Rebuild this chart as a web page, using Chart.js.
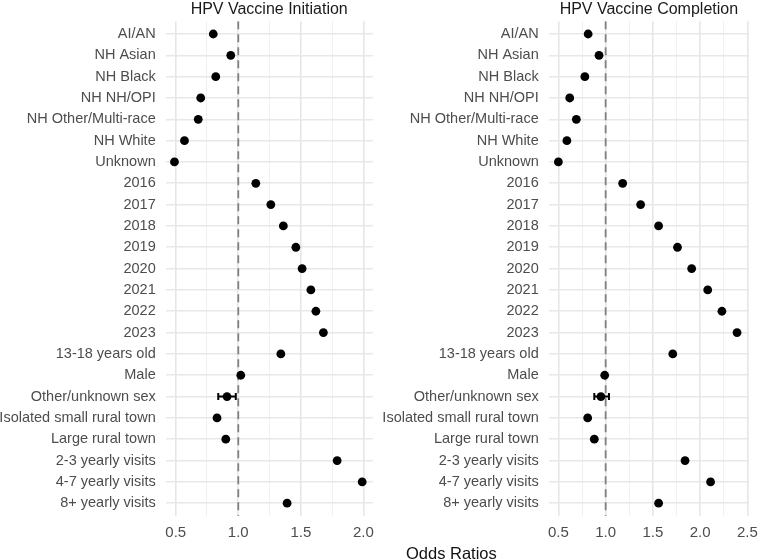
<!DOCTYPE html>
<html>
<head>
<meta charset="utf-8">
<script src="https://cdn.jsdelivr.net/npm/chart.js@4.4.1/dist/chart.umd.min.js"></script>
<style>
  body { margin: 0; background: #fff; }
  #wrap { position: relative; width: 766px; height: 560px; }
  .panel { position: absolute; top: 0; width: 383px; height: 560px; }
  #xlab { position: absolute; left: 406px; top: 544px; font: 16.5px "Liberation Sans", Arial, sans-serif; color: #111; white-space: nowrap; }
</style>
</head>
<body>
<div id="wrap">
  <div class="panel" style="left:0"><canvas id="initChart" width="383" height="560"></canvas></div>
  <div class="panel" style="left:383px"><canvas id="compChart" width="383" height="560"></canvas></div>
  <div id="xlab">Odds Ratios</div>
</div>
<script>
// row labels, top to bottom
const categories = [
    "AI/AN", "NH Asian", "NH Black", "NH NH/OPI", "NH Other/Multi-race", "NH White", "Unknown",
    "2016", "2017", "2018", "2019", "2020", "2021", "2022", "2023",
    "13-18 years old", "Male", "Other/unknown sex",
    "Isolated small rural town", "Large rural town",
    "2-3 yearly visits", "4-7 yearly visits", "8+ yearly visits"
];

// odds ratios
const initOR = [0.80, 0.94, 0.82, 0.70, 0.68, 0.57, 0.49,
    1.14, 1.26, 1.36, 1.46, 1.51, 1.58, 1.62, 1.68,
    1.34, 1.02, 0.91, 0.83, 0.90, 1.79, 1.99, 1.39];
const compOR = [0.815, 0.93, 0.78, 0.62, 0.69, 0.59, 0.50,
    1.18, 1.37, 1.56, 1.76, 1.91, 2.08, 2.23, 2.39,
    1.71, 0.99, 0.95, 0.81, 0.88, 1.84, 2.11, 1.56];

// only CI wide enough to show past the dot
const ciLabel = "Other/unknown sex";
const initCI = [0.84, 0.98];
const compCI = [0.88, 1.035];

const initTicks = [0.5, 0.75, 1.0, 1.25, 1.5, 1.75, 2.0];
const compTicks = [0.5, 0.75, 1.0, 1.25, 1.5, 1.75, 2.0, 2.25, 2.5];

const FONT = "'Liberation Sans', Arial, sans-serif";
const TEXT_GREY = "#4d4d4d";

// draws the horizontal CI with end caps
const errorBarPlugin = {
    id: 'errorBars',
    afterDatasetsDraw(chart, args, opts) {
        const ctx = chart.ctx;
        const xs = chart.scales.x, ys = chart.scales.y;
        const row = categories.indexOf(opts.label);
        const y = ys.getPixelForValue(row);
        const x0 = xs.getPixelForValue(opts.ci[0]);
        const x1 = xs.getPixelForValue(opts.ci[1]);
        ctx.save();
        ctx.strokeStyle = "#000";
        ctx.lineWidth = 2;
        ctx.beginPath();
        ctx.moveTo(x0, y); ctx.lineTo(x1, y);
        ctx.moveTo(x0, y - 3.5); ctx.lineTo(x0, y + 3.5);
        ctx.moveTo(x1, y - 3.5); ctx.lineTo(x1, y + 3.5);
        ctx.stroke();
        ctx.restore();
    }
};

function makeChart(id, title, values, ci, xmin, xmax, xticks) {
    const pts = values.map((v, i) => ({x: v, y: i}));
    return new Chart(document.getElementById(id), {
        type: 'scatter',
        data: {
            datasets: [
                {
                    data: pts,
                    pointRadius: 4.4,
                    pointBackgroundColor: "#000",
                    pointBorderWidth: 0,
                    order: 1
                },
                {
                    type: 'line',
                    data: [{x: 1, y: -0.6}, {x: 1, y: categories.length - 0.4}],
                    showLine: true,
                    borderColor: "#808080",
                    borderWidth: 1.8,
                    borderDash: [8, 5],
                    pointRadius: 0,
                    order: 2
                }
            ]
        },
        options: {
            responsive: false,
            animation: false,
            layout: { padding: { left: 0, right: 10.3, top: 0, bottom: 0 } },
            scales: {
                x: {
                    type: 'linear',
                    min: xmin,
                    max: xmax,
                    afterBuildTicks: s => { s.ticks = xticks.map(v => ({value: v})); },
                    afterFit: s => { s.height = 44; },
                    border: { display: false },
                    grid: {
                        drawTicks: false,
                        color: c => (c.tick && c.tick.value % 0.5 === 0) ? "#e6e6e6" : "#f0f0f0",
                        lineWidth: c => (c.tick && c.tick.value % 0.5 === 0) ? 1.6 : 1
                    },
                    ticks: {
                        autoSkip: false,
                        maxRotation: 0,
                        padding: 8,
                        color: TEXT_GREY,
                        font: { family: FONT, size: 15 },
                        callback: v => (v % 0.5 === 0) ? v.toFixed(1) : ''
                    }
                },
                y: {
                    type: 'linear',
                    reverse: true,
                    min: -0.6,
                    max: categories.length - 0.4,
                    afterBuildTicks: s => { s.ticks = categories.map((c, i) => ({value: i})); },
                    afterFit: s => { s.width = 165.7; },
                    border: { display: false },
                    grid: { drawTicks: false, color: "#e8e8e8", lineWidth: 1.6 },
                    ticks: {
                        autoSkip: false,
                        padding: 10,
                        color: TEXT_GREY,
                        font: { family: FONT, size: 14.5 },
                        callback: v => categories[v]
                    }
                }
            },
            plugins: {
                legend: { display: false },
                tooltip: { enabled: false },
                title: {
                    display: true,
                    fullSize: false,
                    text: title,
                    color: "#1a1a1a",
                    font: { family: FONT, size: 16, weight: 'normal' },
                    padding: { top: 0, bottom: 2 }
                },
                errorBars: { label: ciLabel, ci: ci }
            }
        },
        plugins: [errorBarPlugin]
    });
}

makeChart('initChart', "HPV Vaccine Initiation", initOR, initCI, 0.42, 2.074, initTicks);
makeChart('compChart', "HPV Vaccine Completion", compOR, compCI, 0.3976, 2.517, compTicks);
</script>
</body>
</html>
